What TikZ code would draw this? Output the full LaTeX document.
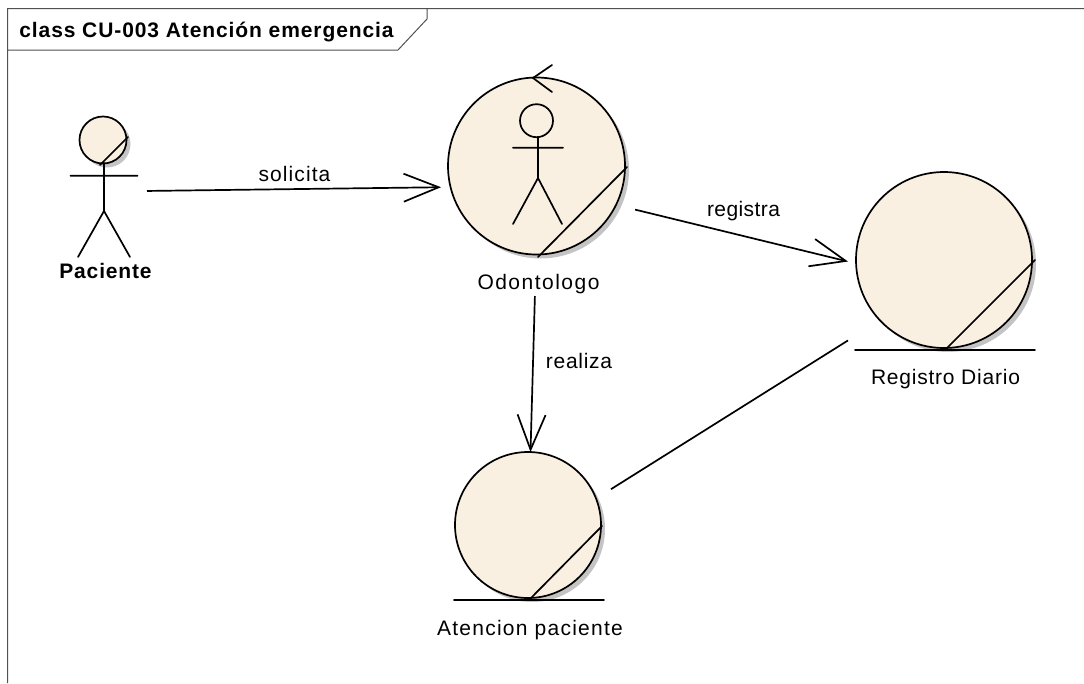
\documentclass[tikz,border=0pt]{standalone}
\usepackage{fontspec}
\setmainfont{Liberation Sans}
\usetikzlibrary{arrows.meta}

\definecolor{symbolfill}{HTML}{FAF0E2}
\definecolor{symbolshadow}{HTML}{C4C4C4}
\definecolor{framecolor}{HTML}{505050}

\def\shadowOffset{4}

\tikzset{
  elementbox/.style = {rectangle, inner sep = 0pt, outer sep = 0pt},
  assoc/.style = {line width = 1.7pt},
  navigable/.style = {assoc, -{Straight Barb[length = 35pt, width = 28pt, line width = 1.7pt]}},
  symbolline/.style = {line width = 1.7pt, line cap = round},
  elementlabel/.style = {inner sep = 0pt, anchor = base, font = \fontsize{21}{25}\selectfont\addfontfeatures{LetterSpace = #1}},
  boldlabel/.style = {inner sep = 0pt, anchor = base, font = \fontsize{21}{25}\selectfont\bfseries\addfontfeatures{LetterSpace = #1}},
}

\begin{document}
\begin{tikzpicture}[x = 1pt, y = -1pt]
  \useasboundingbox (0,0) rectangle (1084,683);

  %% frame
  \draw [framecolor, line width = 1pt]
  (7.5,683) -- (7.5,8.5) -- (1084,8.5)
  (7.5,50) -- (398,50) -- (427,19) -- (427,8.5)
  ;
  \node [boldlabel = 4.3] (frametitle) at (206.5,37) {class CU-003 Atención emergencia};

  %% boxes the connectors run between
  \node [elementbox, minimum width = 86pt, minimum height = 140pt] (paciente) at (104,191.5) {};
  \node [elementbox, minimum width = 194pt, minimum height = 220pt] (odontologo) at (538,186) {};
  \node [elementbox, minimum width = 182pt, minimum height = 190pt] (registro) at (939,283.6) {};
  \node [elementbox, minimum width = 166pt, minimum height = 178pt] (atencion) at (528,541) {};

  %% ...paciente
  \fill [symbolshadow] (103,140) ++(\shadowOffset,\shadowOffset) circle [radius = 23.5];
  \draw [symbolline, fill = symbolfill] (103,140) circle [radius = 23.5];
  \draw [symbolline]
  (100,165) -- (128,137)
  (70.5,175.7) -- (137.5,175.7)
  (104,163) -- (104,211)
  (78,257) -- (104,211) -- (130,257)
  ;
  \node [boldlabel = 4] (pacientelabel) at (105.5,278.5) {Paciente};

  %% ...odontologo
  \fill [symbolshadow] (536.5,166) ++(\shadowOffset,\shadowOffset) circle [radius = 88.5];
  \draw [symbolline, fill = symbolfill] (536.5,166) circle [radius = 88.5];
  \draw [symbolline]
  (538,257) -- (627,167)
  (552,65) -- (533,78) -- (552,92)
  (513,147.7) -- (563,147.7)
  (538,137) -- (538,178)
  (513,224) -- (538,178) -- (562,224)
  ;
  \draw [symbolline] (536.5,120.7) circle [radius = 16.5];
  \node [elementlabel = 7.1] (odontologolabel) at (538.5,289) {Odontologo};

  %% ...registro diario
  \fill [symbolshadow] (944,260) ++(\shadowOffset,\shadowOffset) circle [radius = 88];
  \draw [symbolline, fill = symbolfill] (944,260) circle [radius = 88];
  \draw [symbolline]
  (855,350) -- (1035,350)
  (946,349) -- (1035,260)
  ;
  \node [elementlabel = 3.7] (registrolabel) at (945.5,384) {Registro Diario};

  %% ...atencion paciente
  \fill [symbolshadow] (528,525) ++(\shadowOffset,\shadowOffset) circle [radius = 73];
  \draw [symbolline, fill = symbolfill] (528,525) circle [radius = 73];
  \draw [symbolline]
  (454,600) -- (604,600)
  (530,599) -- (602,526)
  ;
  \node [elementlabel = 6] (atencionlabel) at (530,635) {Atencion paciente};

  %% connectors
  \draw [navigable] (paciente) -- (odontologo);
  \draw [navigable] (odontologo) -- (registro);
  \draw [navigable] (odontologo) -- (atencion);
  \draw [assoc] (atencion) -- (registro);

  \node [elementlabel = 5.2] (solicitalabel) at (294.5,181) {solicita};
  \node [elementlabel = 2] (registralabel) at (743.5,216) {registra};
  \node [elementlabel = 3.3] (realizalabel) at (579,368) {realiza};
\end{tikzpicture}
\end{document}
